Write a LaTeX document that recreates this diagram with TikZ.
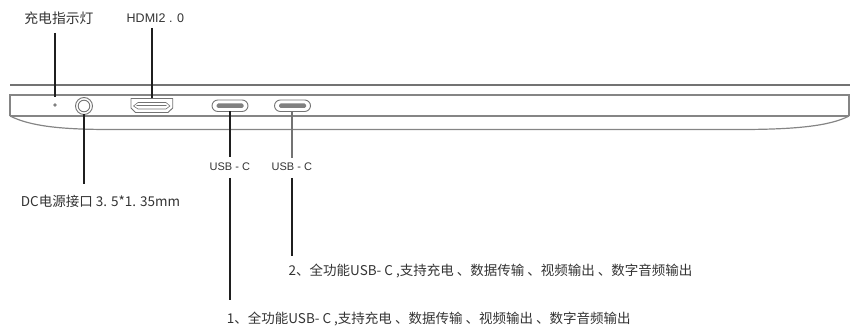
\documentclass[tikz,border=0pt]{standalone}
\usepackage{fontspec}
\setmainfont{Noto Sans CJK SC}
\newfontfamily\latinf{Liberation Sans}
\tikzset{
  x=1pt,y=-1pt,
  body/.style={draw=black!48,line width=1.2pt},
  port/.style={draw=black!55,line width=.9pt},
  lead/.style={draw=black!88,line width=1.5pt},
  leadgray/.style={draw=black!55,line width=1.5pt},
  lab/.style={inner sep=0pt,anchor=west,font=\fontsize{13.5}{15}\selectfont,text=black!80},
  usb/.style={inner sep=0pt,anchor=west,font=\latinf\fontsize{11}{13}\selectfont,text=black!80},
}
\begin{document}
\begin{tikzpicture}
\useasboundingbox (0,0) rectangle (850,328);
% body
\draw[body,line width=1.6pt,draw=black!55] (10,85) -- (850,85);
\draw[body] (10,116) -- (10,95) -- (849,95) -- (849,116);
\draw[body,line width=1.5pt] (10,116) -- (849,116);
\draw[body] (10,116) .. controls (30,126) and (60,129.5) .. (110,129.5) -- (740,129.5) .. controls (795,129.5) and (830,126) .. (849,116);
% LED
\fill[black!50] (55,105) circle (1.9);
\coordinate (ledt) at (55,97);
% jack
\draw[port] (84,106) circle (8.5);
\draw[port] (84,106) circle (5.8);
\coordinate (jackb) at (84,114.5);
% HDMI
\draw[port,line join=round] (131,98.5) -- (172.7,98.5) -- (172.7,108) -- (168,112.5) -- (135.5,112.5) -- (131,108) -- cycle;
\draw[draw=black!55,line width=1.2pt,line cap=round] (137,105.8) -- (166,105.8);
\draw[port,line width=.6pt] (133.5,106) -- (138,102.5) -- (166,102.5) -- (170,106) -- (166,109) -- (138,109) -- cycle;
\coordinate (hdmit) at (152,98.5);
% USB-C 1
\draw[port,rounded corners=5.8pt] (212,100) rectangle (248,111.5);
\fill[black!50,rounded corners=1.5pt] (216.5,103.5) rectangle (243.5,108);
\coordinate (usba) at (230,111.5);
% USB-C 2
\draw[port,rounded corners=5.8pt] (274.5,100) rectangle (310.5,111.5);
\fill[black!50,rounded corners=1.5pt] (279,103.5) rectangle (306,108);
\coordinate (usbb) at (292,111.5);
% labels
\node[lab,font=\fontsize{13.8}{15}\selectfont] (t1) at (24.2,18.5) {充电指示灯};
\node[usb,font=\latinf\fontsize{12.5}{14}\selectfont] (t2) at (126.5,18.5) {HDMI2 . 0};
\node[usb] (u1) at (209.5,167) {USB - C};
\node[usb] (u2) at (271.5,167) {USB - C};
\node[lab] (t3) at (20.7,201.5) {DC电源接口 3. 5*1. 35mm};
\node[lab] (t4) at (288.5,271.5) {2、全功能USB- C ,支持充电 、数据传输 、视频输出 、数字音频输出};
\node[lab] (t5) at (226.7,319.5) {1、全功能USB- C ,支持充电 、数据传输 、视频输出 、数字音频输出};
% anchors on labels
\coordinate (a1) at (55,33);
\coordinate (a2) at (152,28);
\coordinate (a3) at (84,184);
\coordinate (a4a) at (230,157);
\coordinate (a5a) at (292,158);
\coordinate (a4b) at (230,299.5);
\coordinate (a4c) at (230,178);
\coordinate (a5b) at (292,178);
\coordinate (a5c) at (292,256);
% leaders
\draw[lead] (a1) -- (ledt);
\draw[lead] (a2) -- (hdmit);
\draw[lead] (jackb) -- (a3);
\draw[lead] (usba) -- (a4a);
\draw[leadgray] (usbb) -- (a5a);
\draw[lead] (a4c) -- (a4b);
\draw[lead] (a5b) -- (a5c);
\end{tikzpicture}
\end{document}
